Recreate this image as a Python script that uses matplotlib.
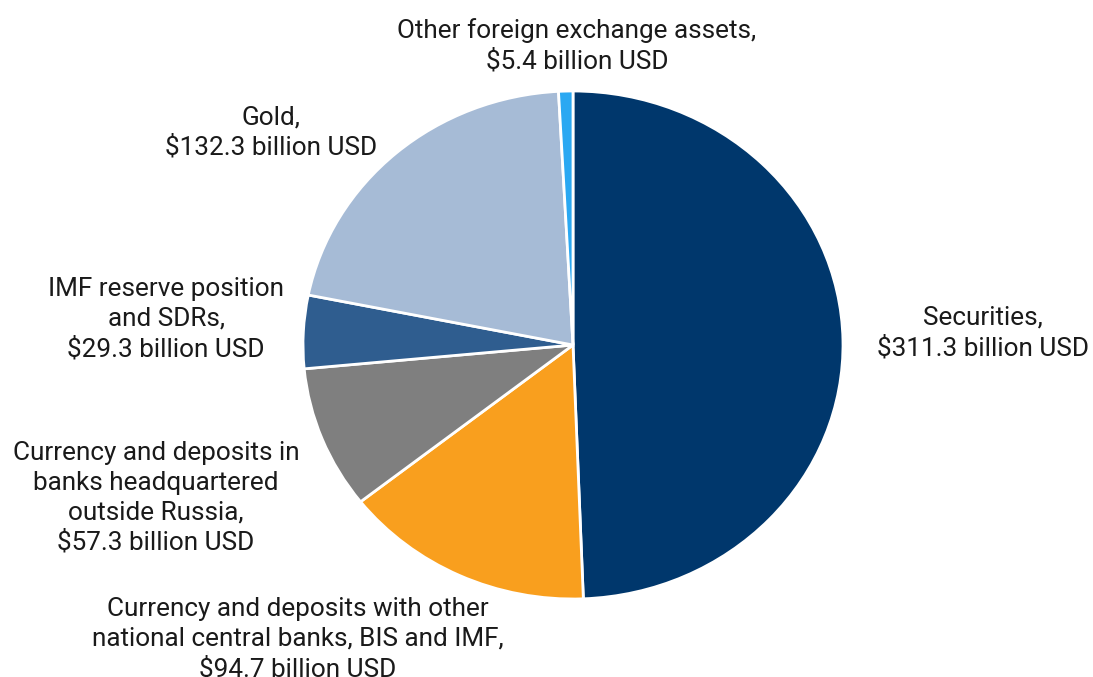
import matplotlib.pyplot as plt

plt.rcParams['font.family'] = ['Roboto', 'DejaVu Sans']

labels = ['Securities,\n$311.3 billion USD',
          'Currency and deposits with other\nnational central banks, BIS and IMF,\n$94.7 billion USD',
          'Currency and deposits in\nbanks headquartered\noutside Russia,\n$57.3 billion USD',
          'IMF reserve position\nand SDRs,\n$29.3 billion USD',
          'Gold,\n$132.3 billion USD',
          'Other foreign exchange assets,\n$5.4 billion USD']
values = [311.3, 94.7, 57.3, 29.3, 132.3, 5.4]
colors = ['#00376C', '#F99F1E', '#7F7F7F', '#2F5D8F', '#A6BBD6', '#2AA8F2']
# label centres in pixels (x, y of first line)
label_pos = [(983, 318), (298, 609), (156, 453), (166, 289), (271, 117), (577, 30)]

W, H = 1093, 677
fig = plt.figure(figsize=(W / 100, H / 100), dpi=100)
ax = fig.add_axes([0, 0, 1, 1])

cx, cy = 573, 345
rx, ry = 270, 254
sx = ry / rx  # squash x so the pie is a bit wider than tall, like the source

ax.pie(values, colors=colors, startangle=90, counterclock=False,
       center=(cx * sx, H - cy), radius=ry,
       wedgeprops=dict(edgecolor='white', linewidth=2))
ax.set_aspect('auto')
ax.set_xlim(0, W * sx)
ax.set_ylim(0, H)
ax.axis('off')

for lab, (x, y) in zip(labels, label_pos):
    fig.text(x / W, 1 - (y - 12) / H, lab, ha='center', va='top',
             fontsize=18.8, color='#1a1a1a', linespacing=1.3)

fig.savefig('out.png', dpi=100)
